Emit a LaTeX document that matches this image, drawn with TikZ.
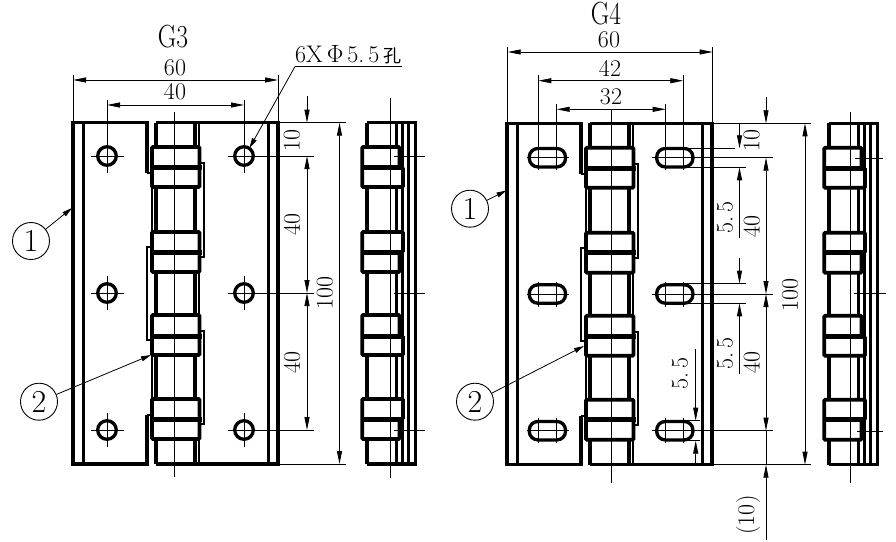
\documentclass[tikz,border=0pt]{standalone}
\usepackage{fontspec}
\usetikzlibrary{arrows.meta}
\newfontfamily\cjk{Noto Sans CJK SC}

\begin{document}
\begin{tikzpicture}[%
  x=1pt, y=-1pt,
  >={Triangle[length=13pt,width=5pt]},
  part/.style={line width=3.3pt, line join=miter},
  leaf/.style={line width=2.4pt},
  knuckle/.style={line width=3.7pt, rounded corners=1pt},
  seam/.style={line width=5pt},
  thinline/.style={line width=0.9pt},
  dim/.style={line width=0.8pt},
  dimtext/.style={font=\fontsize{24}{24}\selectfont, inner sep=0pt},
  vdimtext/.style={dimtext, rotate=90},
  title/.style={font=\fontsize{32}{32}\selectfont, inner sep=0pt, xscale=0.8, transform shape},
  callout/.style={draw, circle, thinline, minimum size=37pt, inner sep=0pt, font=\fontsize{32}{32}\selectfont},
  leader/.style={line width=0.8pt, >={Triangle[length=10pt,width=5pt]}},
]
  \useasboundingbox (0,0) rectangle (896,541);

  % both hinges, front and side
  \foreach \ox/\oy/\sx in {0/0/0, 434/0.7/462} {
    \begin{scope}[shift={(\ox,\oy)}]
      \draw[part] (147,173) -- (147,122.7) -- (73,122.7) -- (73,464) -- (147,464) -- (147,415);
      \draw[part] (156,122.7) -- (199,122.7) -- (278,122.7) -- (278,464) -- (156,464);
      \draw[part] (83.5,122.7) -- (83.5,464);
      \draw[part] (268.5,122.7) -- (268.5,464);
      \draw[leaf] (147,173) -- (152,173) -- (152,247) -- (147,247) -- (147,340) -- (152,340) -- (152,415) -- (147,415);
      \draw[leaf] (199,122.7) -- (199,163) -- (204,163) -- (204,257) -- (199,257) -- (199,331) -- (204,331) -- (204,424) -- (199,424) -- (199,464);
      \foreach \ya/\yb in {122.7/147, 187/232, 272/315, 355/399, 439/464} {
        \draw[part] (156,\ya) -- (156,\yb);
        \draw[part] (195,\ya) -- (195,\yb);
      }
      \foreach \ya/\ym/\yb in {147/167.5/187, 232/252/272, 315/336/355, 399/419/439} {
        \draw[knuckle] (152,\ya) rectangle (199.5,\yb);
        \draw[seam] (150,\ym) -- (202,\ym);
      }
    \end{scope}
    \begin{scope}[shift={(\sx,\oy)}]
      \draw[part] (367,122.7) -- (415.5,122.7) -- (415.5,464) -- (367,464);
      \draw[part] (408.5,122.7) -- (408.5,464);
      \draw[part] (402.5,122.7) -- (402.5,464);
      \foreach \ya/\yb in {122.7/147, 187/232, 272/315, 355/399, 439/464} {
        \draw[part] (367,\ya) -- (367,\yb);
        \draw[leaf] (396.5,\ya) -- (396.5,\yb);
      }
      \foreach \ya/\ym/\yb/\rt/\rb in {147/167.5/187/399.5/403, 232/252/272/403/399.5, 315/336/355/399.5/403, 399/419/439/403/399.5} {
        \draw[knuckle] (\rt,\ym) -- (\rt,\ya) -- (362.3,\ya) -- (362.3,\yb) -- (\rb,\yb) -- (\rb,\ym);
        \draw[seam] (362.3,\ym) -- (404,\ym);
      }
    \end{scope}
  }

  % centre lines
  \draw[thinline] (174.5,112) -- (174.5,477);
  \draw[thinline] (611.7,110) -- (611.7,483);
  \draw[thinline] (390.7,98) -- (390.7,478);
  \draw[thinline] (850.3,111.7) -- (850.3,482.7);
  \foreach \y in {156,293,430} \draw[thinline] (394,\y) -- (425,\y);
  \draw[thinline] (855,158) -- (883,158);
  \draw[thinline] (854,293.5) -- (886,293.5);
  \draw[thinline] (857,431) -- (883,431);

  % G3 holes
  \foreach \y in {156,293,430} {
    \draw[part] (107,\y) circle (9.3);
    \draw[part] (244,\y) circle (9.3);
    \draw[thinline] (91,\y) -- (124,\y);
    \draw[dim] (228,\y) -- (314,\y);
  }
  \foreach \y in {293,430} {
    \draw[thinline] (107,\y-16.7) -- (107,\y+16.7);
    \draw[thinline] (244,\y-16.7) -- (244,\y+16.7);
  }

  % G3 dimensions
  \node[title] (titleA) at (173,37) {G3};
  \draw[dim] (73,75) -- (73,122);
  \draw[dim] (278,75) -- (278,122);
  \draw[dim,<->] (73,80) -- (278,80);
  \node[dimtext] (widthA) at (175,68) {60};
  \draw[dim] (107,100) -- (107,172.7);
  \draw[dim] (244,100) -- (244,172.7);
  \draw[dim,<->] (107,105) -- (244,105);
  \node[dimtext] (pitchA) at (175,92) {40};
  \draw[dim] (278,122.7) -- (346,122.7);
  \draw[dim] (278,464) -- (346,464);
  \draw[dim,<-] (307,122.7) -- (307,96);
  \draw[dim,<->] (307,156) -- (307,293);
  \draw[dim,<->] (307,293) -- (307,430);
  \draw[dim,<->] (339.5,122.7) -- (339.5,464);
  \node[vdimtext] (topA) at (292,140) {10};
  \node[vdimtext] (midA) at (292,224) {40};
  \node[vdimtext] (lowA) at (292,362) {40};
  \node[vdimtext] (totalA) at (325,293) {100};

  % G3 labels
  \node[dimtext, anchor=south west, inner sep=2pt, inner xsep=0pt] (holenote) at (295,66.5) {6X\,$\Phi$\,5.\,5\,{\cjk\fontsize{18}{18}\selectfont 孔}};
  \coordinate (holetip) at (249.5,148);
  \draw[dim] (holenote.south west) -- (holenote.south east);
  \draw[leader,->] (holenote.south west) -- (holetip);
  \node[callout] (oneA) at (31,241) {1};
  \coordinate (oneAtip) at (72,208);
  \draw[leader,->] (oneA) -- (oneAtip);
  \node[callout] (twoA) at (39,401.7) {2};
  \coordinate (twoAtip) at (151,355);
  \draw[leader,->] (twoA) -- (twoAtip);

  % G4 slots
  \foreach \y in {157.7,294,430.7} {
    \foreach \x in {538.3,665.7} {
      \draw[part,rounded corners=8.5pt] (\x-9,\y-9.2) rectangle (\x+27.2,\y+9.2);
    }
    \draw[thinline] (526.7,\y) -- (569,\y);
    \draw[dim] (652,\y) -- (773,\y);
  }
  \foreach \y in {294,430.7} {
    \foreach \x in {538.3,556.7,665.7,683.3} \draw[thinline] (\x,\y-12.5) -- (\x,\y+12.5);
  }

  % G4 dimensions
  \node[title] (titleB) at (606,13.5) {G4};
  \draw[dim] (507.7,47) -- (507.7,122);
  \draw[dim] (712.7,47) -- (712.7,122);
  \draw[dim,<->] (507.7,52) -- (712.7,52);
  \node[dimtext] (widthB) at (609,39.5) {60};
  \draw[dim] (538.3,75) -- (538.3,170);
  \draw[dim] (683.3,75) -- (683.3,170);
  \draw[dim,<->] (538.3,80.7) -- (683.3,80.7);
  \node[dimtext] (outerB) at (610,68) {42};
  \draw[dim] (556.7,104) -- (556.7,170);
  \draw[dim] (665.7,104) -- (665.7,170);
  \draw[dim,<->] (556.7,109.3) -- (665.7,109.3);
  \node[dimtext] (innerB) at (611,97) {32};
  \draw[dim] (712.7,123.3) -- (811,123.3);
  \draw[dim] (712.7,464.7) -- (811,464.7);
  \draw[dim,<->] (805,123.3) -- (805,464.7);
  \node[vdimtext] (totalB) at (790,295) {100};
  \draw[dim,<-] (766,123.3) -- (766,97);
  \draw[dim,<->] (766,157.7) -- (766,294);
  \draw[dim,<->] (766,294) -- (766,430.7);
  \draw[dim,<-] (766,464.7) -- (766,540);
  \draw[dim] (766,430.7) -- (766,464.7);
  \node[vdimtext] (topB) at (751.7,140) {10};
  \node[vdimtext] (midB) at (751.7,226) {40};
  \node[vdimtext] (lowB) at (751.7,362) {40};
  \node[vdimtext] (gapB) at (748,515) {(10)};

  % G4 slot heights
  \draw[dim] (665.7,148.3) -- (735,148.3);
  \draw[dim] (665.7,167.3) -- (745.7,167.3);
  \draw[dim,<-] (739.5,148.3) -- (739.5,123.3);
  \draw[dim,<-] (739.5,167.3) -- (739.5,238);
  \node[vdimtext] (slotA) at (725,217) {5.\,5};
  \draw[dim] (665.7,283.6) -- (745.7,283.6);
  \draw[dim] (665.7,303.3) -- (745.7,303.3);
  \draw[dim,<-] (739.5,283.6) -- (739.5,258);
  \draw[dim,<-] (739.5,303.3) -- (739.5,374);
  \node[vdimtext] (slotB) at (725,353) {5.\,5};
  \draw[dim] (665.7,420.7) -- (700,420.7);
  \draw[dim] (665.7,440.7) -- (700,440.7);
  \draw[dim,<-] (695.7,420.7) -- (695.7,349);
  \draw[dim,<-] (695.7,440.7) -- (695.7,466);
  \node[vdimtext] (slotC) at (680,373) {5.\,5};

  % G4 labels
  \node[callout] (oneB) at (470,208.7) {1};
  \coordinate (oneBtip) at (506.5,190.5);
  \draw[leader,->] (oneB) -- (oneBtip);
  \node[callout] (twoB) at (475,401.7) {2};
  \coordinate (twoBtip) at (584,346);
  \draw[leader,->] (twoB) -- (twoBtip);

\end{tikzpicture}
\end{document}
